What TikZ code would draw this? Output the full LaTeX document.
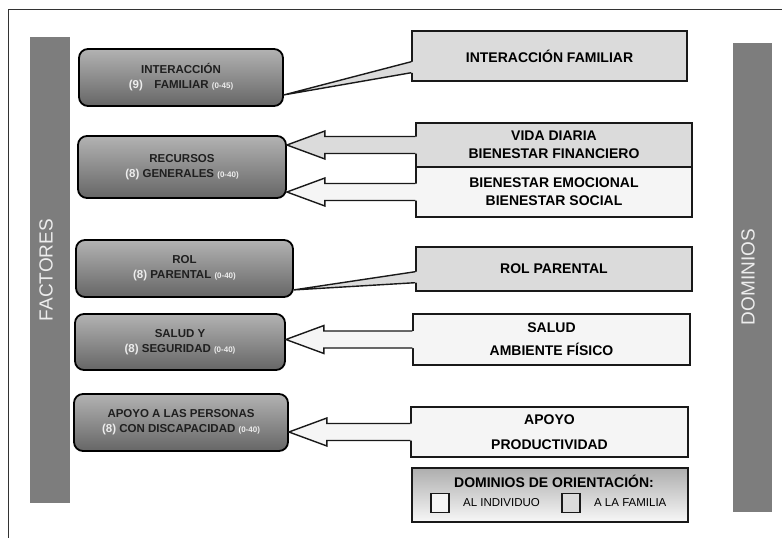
\documentclass[tikz,border=0pt]{standalone}
\usepackage{fontspec}
\setmainfont{Liberation Sans}
\usetikzlibrary{calc,positioning}
\definecolor{barragris}{gray}{0.49}
\definecolor{cajaclara}{gray}{0.86}
\definecolor{cajablanca}{gray}{0.96}
\definecolor{numgris}{gray}{0.93}

% block arrow: fill #1, from right box #2 to left box #3
\newcommand{\flecha}[3]{%
  \coordinate (t) at (#3.east |- #2.west);
  \fill[#1] (t) -- ($(t)+(38,-14)$) -- ($(t)+(38,-8.5)$) -- ($(#2.west)+(1.5,-8.5)$)
    -- ($(#2.west)+(1.5,8.5)$) -- ($(t)+(38,8.5)$) -- ($(t)+(38,14)$) -- cycle;
  \draw[linea] ($(#2.west)+(0,-8.5)$) -- ($(t)+(38,-8.5)$) -- ($(t)+(38,-14)$) -- (t)
    -- ($(t)+(38,14)$) -- ($(t)+(38,8.5)$) -- ($(#2.west)+(0,8.5)$);
}
% wedge callout: fill #1, from right box #2 to corner of left box #3 (raised by #4)
\newcommand{\globo}[4]{%
  \coordinate (p) at ($(#3.south east)+(0,#4)$);
  \fill[#1] (p) -- ($(#2.south west)+(1.5,-20)$) -- ($(#2.south west)+(1.5,-9)$) -- cycle;
  \draw[linea,line join=round] ($(#2.south west)+(0,-20)$) -- (p) -- ($(#2.south west)+(0,-9)$);
}

\begin{document}
\begin{tikzpicture}[x=1pt,y=-1pt,
  factor/.style={draw=black,line width=1.8pt,rounded corners=9pt,top color=black!30,
    bottom color=black!60,align=center,text=black!88,inner sep=0pt,
    font=\fontsize{11.5}{15}\selectfont\bfseries},
  dominio/.style={draw=black!90,line width=1.4pt,align=center,inner sep=0pt,
    font=\fontsize{14}{18}\selectfont\bfseries},
  linea/.style={draw=black!90,line width=1.4pt},
  cuadro/.style={draw=black!90,line width=1.2pt,minimum width=18pt,minimum height=19pt,inner sep=0pt},
  barra/.style={rotate=90,text=numgris,font=\fontsize{19}{19}\selectfont}]
  \useasboundingbox (0,0) rectangle (782,538);
  \draw[black!80,line width=0.8pt] (8,538) -- (8,9) -- (782,9);

  % side bars
  \fill[barragris] (30,37) rectangle (70,503);
  \node[barra] (factores) at (46,270) {FACTORES};
  \fill[barragris] (733,43) rectangle (772,512);
  \node[barra] (dominios) at (748,277) {DOMINIOS};

  % factors
  \node[factor,minimum width=204pt,minimum height=57pt] (interaccion) at (181,77.5)
    {INTERACCIÓN\\{\color{numgris}(9)}\quad FAMILIAR {\color{numgris}\fontsize{8}{8}\selectfont(0-45)}};
  \node[factor,minimum width=208pt,minimum height=62pt] (recursos) at (182,167)
    {RECURSOS\\{\color{numgris}(8)} GENERALES {\color{numgris}\fontsize{8}{8}\selectfont(0-40)}};
  \node[factor,minimum width=217pt,minimum height=57pt] (rol) at (184.5,268.5)
    {ROL\\{\color{numgris}(8)} PARENTAL {\color{numgris}\fontsize{8}{8}\selectfont(0-40)}};
  \node[factor,minimum width=210pt,minimum height=56pt] (seguridad) at (180,342)
    {SALUD Y\\{\color{numgris}(8)} SEGURIDAD {\color{numgris}\fontsize{8}{8}\selectfont(0-40)}};
  \node[factor,minimum width=214pt,minimum height=57pt] (discapacidad) at (181,422.5)
    {APOYO A LAS PERSONAS\\{\color{numgris}(8)} CON DISCAPACIDAD {\color{numgris}\fontsize{8}{8}\selectfont(0-40)}};

  % domains
  \node[dominio,fill=cajaclara,minimum width=275pt,minimum height=50pt] (dinteraccion) at (549.5,56)
    {INTERACCIÓN FAMILIAR};
  \node[dominio,fill=cajaclara,minimum width=276pt,minimum height=44pt] (vida) at (554,145)
    {VIDA DIARIA\\BIENESTAR FINANCIERO};
  \node[dominio,fill=cajablanca,minimum width=276pt,minimum height=50pt] (emocional) at (554,192)
    {BIENESTAR EMOCIONAL\\BIENESTAR SOCIAL};
  \node[dominio,fill=cajaclara,minimum width=276pt,minimum height=44pt] (drol) at (554,269)
    {ROL PARENTAL};
  \node[dominio,fill=cajablanca,minimum width=277pt,minimum height=51pt] (salud) at (551.5,339.5)
    {SALUD\\[5pt]AMBIENTE FÍSICO};
  \node[dominio,fill=cajablanca,minimum width=277pt,minimum height=50pt] (apoyo) at (549.5,432)
    {APOYO\\[7pt]PRODUCTIVIDAD};

  % connectors
  \globo{cajaclara}{dinteraccion}{interaccion}{-12}
  \globo{cajaclara}{drol}{rol}{-8}
  \flecha{cajaclara}{vida}{recursos}
  \flecha{cajablanca}{emocional}{recursos}
  \flecha{cajablanca}{salud}{seguridad}
  \flecha{cajablanca}{apoyo}{discapacidad}

  % legend
  \node[draw=black!90,line width=1.4pt,top color=black!32,bottom color=black!3,
    minimum width=276pt,minimum height=54pt] (leyenda) at (550,495) {};
  \node[font=\fontsize{14}{14}\selectfont\bfseries] (titulo) at (554,481) {DOMINIOS DE ORIENTACIÓN:};
  \node[cuadro,fill=cajablanca] (individuo) at (440,503) {};
  \node[right=10pt of individuo,font=\fontsize{11.5}{12}\selectfont] (lindividuo) {AL INDIVIDUO};
  \node[cuadro,fill=cajaclara] (familia) at (571,503) {};
  \node[right=10pt of familia,font=\fontsize{11.5}{12}\selectfont] (lfamilia) {A LA FAMILIA};
\end{tikzpicture}
\end{document}
